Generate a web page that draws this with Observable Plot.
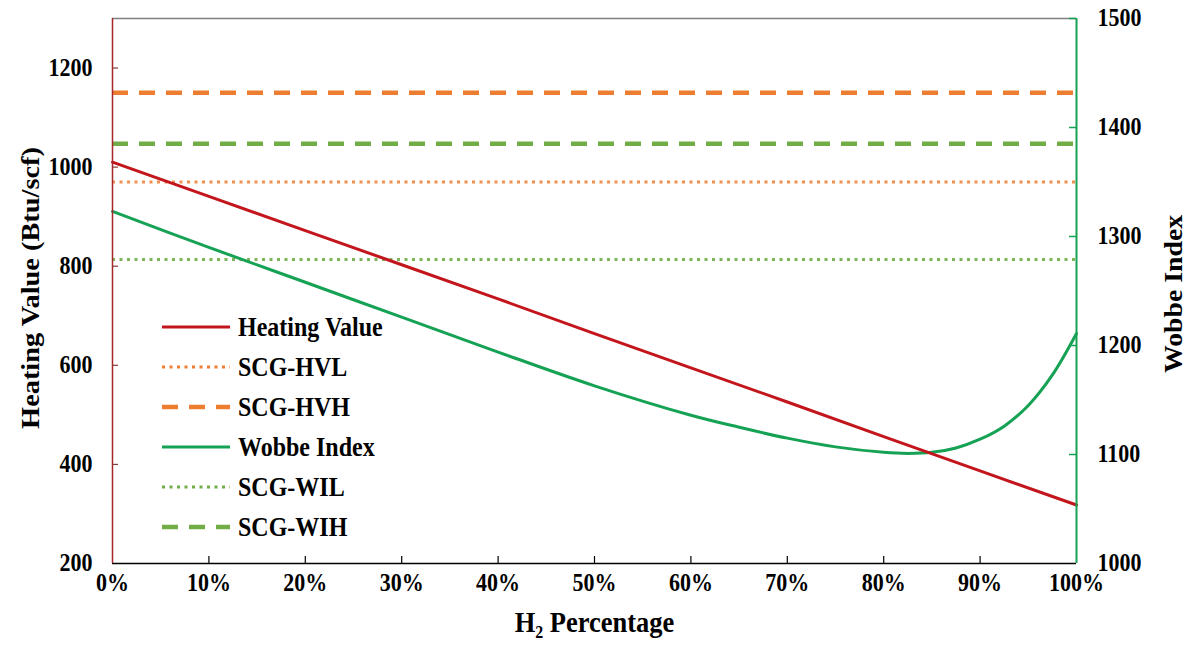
<!DOCTYPE html>
<html><head><meta charset="utf-8">
<script src="https://cdn.jsdelivr.net/npm/d3@7"></script>
<script src="https://cdn.jsdelivr.net/npm/@observablehq/plot@0.6"></script>
<style>
body{margin:0;background:#fff;}
#wrap{position:relative;width:1187px;height:648px;}
#legend{position:absolute;left:160px;top:307px;font-family:'Liberation Serif','Times New Roman',serif;font-weight:bold;font-size:24px;color:#000;}
.row{display:flex;align-items:center;height:40px;}
.row svg{width:72px;height:10px;margin-right:6px;display:block}
.row span{display:inline-block;transform:scaleY(1.12);}
</style></head><body><div id="wrap"></div>
<script>
// ---- data ----
const hvPct = [0, 10, 20, 30, 40, 50, 60, 70, 80, 90, 100];
const heatingValue = [1010, 941, 872, 803, 734, 664, 595, 526, 456, 387, 318];
const wobbePct = [0, 10, 20, 30, 40, 50, 60, 65, 70, 75, 80, 82.5, 85, 87.5, 90, 92.5, 95, 97.5, 100];
const wobbeIndex = [1323, 1290, 1258, 1226, 1194, 1163, 1136, 1125, 1115, 1107, 1102, 1101, 1102, 1106, 1114, 1126, 1145, 1173, 1211];
const limitNames = ["SCG-HVL", "SCG-HVH", "SCG-WIL", "SCG-WIH"];
const limitValues = [970, 1150, 1279, 1385];
const xTicks = [0, 10, 20, 30, 40, 50, 60, 70, 80, 90, 100];
const leftTicks = [200, 400, 600, 800, 1000, 1200];
const rightTicks = [1000, 1100, 1200, 1300, 1400, 1500];
const legendNames = ["Heating Value", "SCG-HVL", "SCG-HVH", "Wobbe Index", "SCG-WIL", "SCG-WIH"];

// ---- styles ----
const RED = "#C3161C", GREEN = "#16A254", ORANGE = "#ED7D31", LGREEN = "#70AD47";
const legendStyles = [
  {stroke: RED, width: 3, dash: null},
  {stroke: ORANGE, width: 3, dash: "3,4.5"},
  {stroke: ORANGE, width: 4.5, dash: "16,11"},
  {stroke: GREEN, width: 3, dash: null},
  {stroke: LGREEN, width: 3, dash: "3,4.5"},
  {stroke: LGREEN, width: 4.5, dash: "16,11"}
];

const W = 1187, H = 648, mL = 112, mR = 111, mT = 18, mB = 85;
const plotW = W - mL - mR, plotH = H - mT - mB;
const toLeft = w => 200 + (w - 1000) * (1100 / 500);
const fromLeft = v => String(Math.round(1000 + (v - 200) * 500 / 1100));

const hv = hvPct.map((p, i) => ({p, v: heatingValue[i]}));
const wi = wobbePct.map((p, i) => ({p, v: wobbeIndex[i]}));
const FONT = "'Liberation Serif','Times New Roman',serif";

const chart = Plot.plot({
  width: W, height: H,
  marginLeft: mL, marginRight: mR, marginTop: mT, marginBottom: mB,
  x: {domain: [0, 100]},
  y: {domain: [200, 1300]},
  style: {fontFamily: FONT, fontSize: "22px", fontWeight: "bold", color: "#000", background: "#fff", overflow: "visible"},
  marks: [
    // limits
    Plot.ruleY([limitValues[0]], {stroke: ORANGE, strokeWidth: 3, strokeDasharray: "3,4.5", strokeOpacity: 0.85}),
    Plot.ruleY([limitValues[1]], {stroke: ORANGE, strokeWidth: 4.5, strokeDasharray: "16,11"}),
    Plot.ruleY([toLeft(limitValues[2])], {stroke: LGREEN, strokeWidth: 3, strokeDasharray: "3,4.5", strokeOpacity: 0.9}),
    Plot.ruleY([toLeft(limitValues[3])], {stroke: LGREEN, strokeWidth: 4.5, strokeDasharray: "16,11"}),
    // series
    Plot.line(wi, {x: "p", y: d => toLeft(d.v), stroke: GREEN, strokeWidth: 3, curve: "catmull-rom"}),
    Plot.line(hv, {x: "p", y: "v", stroke: RED, strokeWidth: 3}),
    // frame lines
    Plot.ruleY([1300], {stroke: "#7f7f7f", strokeWidth: 1.5}),
    Plot.ruleY([200], {stroke: "#000", strokeWidth: 1.5}),
    Plot.ruleX([0], {stroke: "#A8262B", strokeWidth: 1.5}),
    Plot.ruleX([100], {stroke: GREEN, strokeWidth: 2}),
    // inward ticks
    Plot.tickY(leftTicks.slice(1), {y: d => d, insetRight: plotW - 6, stroke: "#8a3a3a", strokeWidth: 1.2}),
    Plot.tickY(rightTicks.slice(1), {y: d => toLeft(d), insetLeft: plotW - 7, stroke: GREEN, strokeWidth: 1.5}),
    Plot.tickX(xTicks.slice(1, -1), {x: d => d, insetTop: plotH - 7, stroke: "#000", strokeWidth: 1.2}),
    // axes labels
    Plot.axisY({anchor: "left", ticks: leftTicks, tickFormat: d => String(d), tickSize: 0, tickPadding: 20, label: null, fontSize: 22, fontWeight: "bold"}),
    Plot.axisY({anchor: "right", ticks: rightTicks.map(toLeft), tickFormat: fromLeft, tickSize: 0, tickPadding: 21, label: null, fontSize: 22, fontWeight: "bold"}),
    Plot.axisX({anchor: "bottom", ticks: xTicks, tickFormat: d => d + "%", tickSize: 0, tickPadding: 10, label: null, fontSize: 22, fontWeight: "bold"}),
    // axis titles
    Plot.text(["Heating Value (Btu/scf)"], {frameAnchor: "left", textAnchor: "middle", dx: -82, dy: -3, rotate: -90, fontSize: 26, fontWeight: "bold"}),
    Plot.text(["Wobbe Index"], {frameAnchor: "right", textAnchor: "middle", dx: 97, dy: 3, rotate: -90, fontSize: 25.5, fontWeight: "bold"}),
    Plot.text(["H\u2082 Percentage"], {frameAnchor: "bottom", textAnchor: "middle", dy: 68, fontSize: 26.5, fontWeight: "bold"})
  ]
});
const wrap = document.getElementById("wrap");
wrap.appendChild(chart);

// slight vertical stretch of text to mimic the reference proportions
chart.querySelectorAll("text").forEach(t => {
  const tr = t.getAttribute("transform") || "";
  if (/rotate/.test(tr)) {
    t.setAttribute("transform", tr + " scale(1.09,1)");
  } else if (tr) {
    t.setAttribute("transform", tr + " scale(1,1.12)");
  } else {
    const x = +t.getAttribute("x") || 0, y = +t.getAttribute("y") || 0;
    t.setAttribute("transform", `translate(${x},${y}) scale(1,1.12) translate(${-x},${-y})`);
  }
});

// legend
const lg = document.createElement("div");
lg.id = "legend";
legendNames.forEach((name, i) => {
  const s = legendStyles[i];
  const row = document.createElement("div");
  row.className = "row";
  row.innerHTML = `<svg viewBox="0 0 72 10"><line x1="2" y1="5" x2="70" y2="5" stroke="${s.stroke}" stroke-width="${s.width}" ${s.dash ? `stroke-dasharray="${s.dash}"` : ""}/></svg><span>${name}</span>`;
  lg.appendChild(row);
});
wrap.appendChild(lg);
</script>
</body></html>
